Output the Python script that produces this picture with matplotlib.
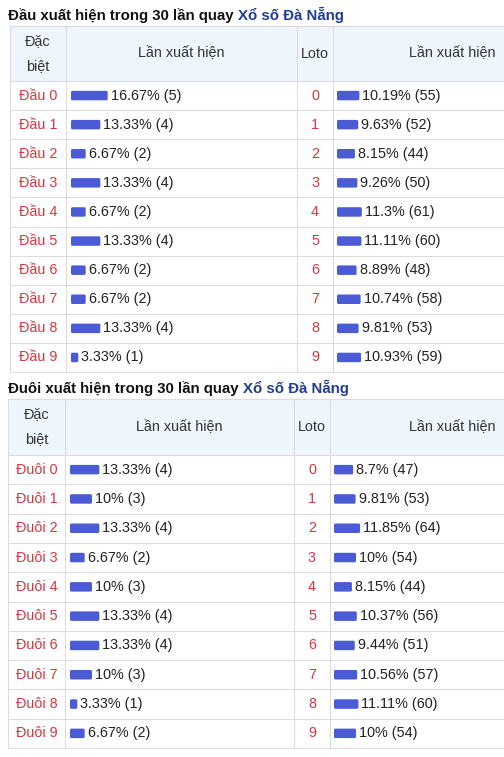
import matplotlib
matplotlib.use("Agg")
import matplotlib.pyplot as plt
from matplotlib.patches import FancyBboxPatch, Rectangle

plt.rcParams['font.family'] = ['Liberation Sans', 'DejaVu Sans']

# data
dau_labels = ["Đầu %d" % i for i in range(10)]
dau_pct = [16.67, 13.33, 6.67, 13.33, 6.67, 13.33, 6.67, 6.67, 13.33, 3.33]
dau_cnt = [5, 4, 2, 4, 2, 4, 2, 2, 4, 1]
dau_loto_pct = [10.19, 9.63, 8.15, 9.26, 11.3, 11.11, 8.89, 10.74, 9.81, 10.93]
dau_loto_cnt = [55, 52, 44, 50, 61, 60, 48, 58, 53, 59]

duoi_labels = ["Đuôi %d" % i for i in range(10)]
duoi_pct = [13.33, 10, 13.33, 6.67, 10, 13.33, 13.33, 10, 3.33, 6.67]
duoi_cnt = [4, 3, 4, 2, 3, 4, 4, 3, 1, 2]
duoi_loto_pct = [8.7, 9.81, 11.85, 10, 8.15, 10.37, 9.44, 10.56, 11.11, 10]
duoi_loto_cnt = [47, 53, 64, 54, 44, 56, 51, 57, 60, 54]

loto = [str(i) for i in range(10)]

RED = "#d9363e"
BAR = "#4b5bd6"
LINE = "#dcdcdc"
HEAD = "#eef5fc"
NAVY = "#1f3c96"
SCALE = 2.2  # px per percent

fig = plt.figure(figsize=(5.04, 7.57), dpi=100)
ax = fig.add_axes([0, 0, 1, 1])
ax.set_xlim(0, 504)
ax.set_ylim(757, 0)
ax.axis("off")
renderer = fig.canvas.get_renderer()


def draw_table(title, ty, top, hbot, rh, cols, names, pct, cnt, lpct, lcnt):
    t = ax.text(8, ty, title + " ", fontsize=10.8, fontweight="bold",
                va="baseline", ha="left", color="#111111")
    bb = t.get_window_extent(renderer)
    x_end = ax.transData.inverted().transform((bb.x1, bb.y0))[0]
    ax.text(x_end, ty, "Xổ số Đà Nẵng", va="baseline", ha="left",
            fontsize=10.8, fontweight="bold", color=NAVY)
    n = len(names)
    bottom = hbot + rh * n
    ax.add_patch(Rectangle((cols[0], top), cols[-1] - cols[0], hbot - top,
                           facecolor=HEAD, edgecolor="none"))
    # grid
    for x in cols:
        ax.plot([x, x], [top, bottom], color=LINE, lw=0.8)
    for k in range(n + 1):
        y = hbot + rh * k
        ax.plot([cols[0], cols[-1]], [y, y], color=LINE, lw=0.8)
    ax.plot([cols[0], cols[-1]], [top, top], color=LINE, lw=0.8)
    hy = (top + hbot) / 2
    fs = 10.4
    ax.text((cols[0] + cols[1]) / 2, hy, "Đặc\nbiệt", ha="center", va="center",
            fontsize=fs, color="#333333", linespacing=2.0)
    ax.text((cols[1] + cols[2]) / 2, hy, "Lần xuất hiện", ha="center",
            va="center", fontsize=fs, color="#333333")
    ax.text((cols[2] + cols[3]) / 2, hy, "Loto", ha="center", va="center",
            fontsize=fs, color="#333333")
    ax.text(452, hy, "Lần xuất hiện", ha="center", va="center",
            fontsize=fs, color="#333333")
    ys = [hbot + rh * (k + 0.5) for k in range(n)]
    for left, vals in ((cols[1] + 5, pct), (cols[3] + 4, lpct)):
        bars = ax.barh(ys, [p * SCALE for p in vals], height=9.5, left=left,
                       color="none")
        for b in bars:
            ax.add_patch(FancyBboxPatch((b.get_x(), b.get_y()), b.get_width(),
                                        b.get_height(),
                                        boxstyle="round,pad=0,rounding_size=1.5",
                                        facecolor=BAR, edgecolor="none"))
    for k in range(n):
        ax.text((cols[0] + cols[1]) / 2, ys[k], names[k], ha="center",
                va="center", fontsize=fs, color=RED)
        ax.text((cols[2] + cols[3]) / 2, ys[k], loto[k], ha="center",
                va="center", fontsize=fs, color=RED)
        ax.text(cols[1] + 5 + pct[k] * SCALE + 3, ys[k],
                "%g%% (%d)" % (pct[k], cnt[k]), ha="left", va="center",
                fontsize=fs, color="#222222")
        ax.text(cols[3] + 4 + lpct[k] * SCALE + 3, ys[k],
                "%g%% (%d)" % (lpct[k], lcnt[k]), ha="left", va="center",
                fontsize=fs, color="#222222")


draw_table("Đầu xuất hiện trong 30 lần quay", 20, 26, 81, 29.1,
           [10, 66, 297, 333, 520], dau_labels, dau_pct, dau_cnt,
           dau_loto_pct, dau_loto_cnt)
draw_table("Đuôi xuất hiện trong 30 lần quay", 393, 399, 455, 29.3,
           [8, 65, 294, 330, 520], duoi_labels, duoi_pct, duoi_cnt,
           duoi_loto_pct, duoi_loto_cnt)

fig.savefig("out.png", dpi=100)
